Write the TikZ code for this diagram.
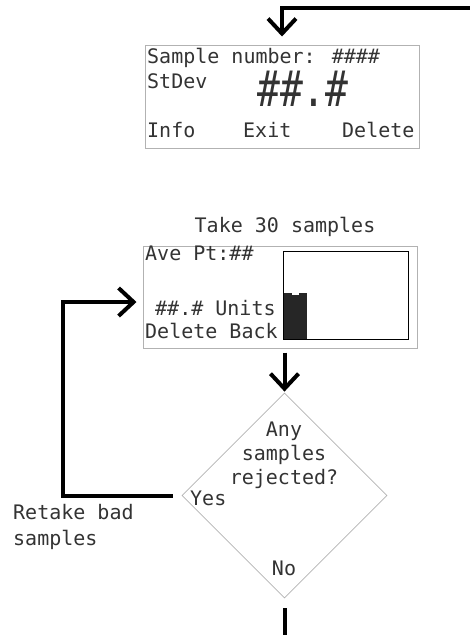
\documentclass[tikz,border=0pt]{standalone}
\usepackage{fontspec}
\setmainfont{DejaVu Sans Mono}
\usetikzlibrary{arrows.meta, positioning, shapes.geometric}

\begin{document}
\begin{tikzpicture} [
						x=1pt, y=-1pt,
						every node/.style={inner sep=0pt, text=black!80, font=\fontsize{20}{24}\selectfont},
						screen/.style={draw=gray!60, line width=1pt, minimum width=274pt},
						txt/.style={anchor=base west},
						flow/.style={line width=4pt, -{Straight Barb[length=15pt, width=28pt]}},
						bare/.style={line width=4pt}
					]

\useasboundingbox (0,0) rectangle (470,635);

\node (stdev) [screen, minimum height=103pt] at (282,96.5) {};
\node (smpno) [txt] at (147,63) {Sample number: \#\#\#\#};
\node (sdlbl) [txt] at (147,88) {StDev};
\node (sdval) [font=\fontsize{38}{40}\selectfont] at (303,89) {\scalebox{1}[1.3]{\#\#.\#}};
\node (info) [txt] at (147,137) {Info};
\node (exit) [txt] at (243,137) {Exit};
\node (del) [txt] at (342,137) {Delete};

\node (take) at (285,227) {Take 30 samples};
\node (avept) [screen, minimum height=102pt] at (280,297) {};
\node (avelbl) [txt] at (145,260) {Ave Pt:\#\#};
\node (units) [txt] at (155,315) {\#\#.\# Units};
\node (keys) [txt] at (145,338) {Delete Back};
\node (chart) [draw, line width=1.2pt, minimum width=125pt, minimum height=88pt, anchor=north west] at (283,251) {};
\foreach \x/\w/\t in {284/8/293, 292/7/295, 299/8/293}
	\fill[black!85] (\x,\t) rectangle ++(\w,339-\t);

\node (reject) [diamond, draw=gray!60, line width=0.8pt, minimum width=205pt, minimum height=205pt, aspect=1] at (284.5,495.5) {};
\node (ask) [align=center] at (284,455) {Any\\samples\\rejected?};
\node (yes) [anchor=west] at (190,498) {Yes};
\node (no) at (284,568) {No};
\node (retake) [anchor=west, align=left, font=\fontsize{20}{26}\selectfont] at (13,527) {Retake bad\\samples};

\coordinate (topin) at (470,8);
\coordinate (out) at (284.5,635);

\draw[flow, shorten >=8pt] (topin) -| (stdev.north);
\draw[flow, shorten <=4pt, shorten >=1pt] (reject.north |- avept.south) -- (reject.north);
\draw[flow, shorten <=9pt, shorten >=6pt] (reject.west) -- ++(-119,0) |- ([yshift=-5pt]avept.west);
\draw[bare, shorten <=10pt] (reject.south) -- (out);
\end{tikzpicture}
\end{document}
